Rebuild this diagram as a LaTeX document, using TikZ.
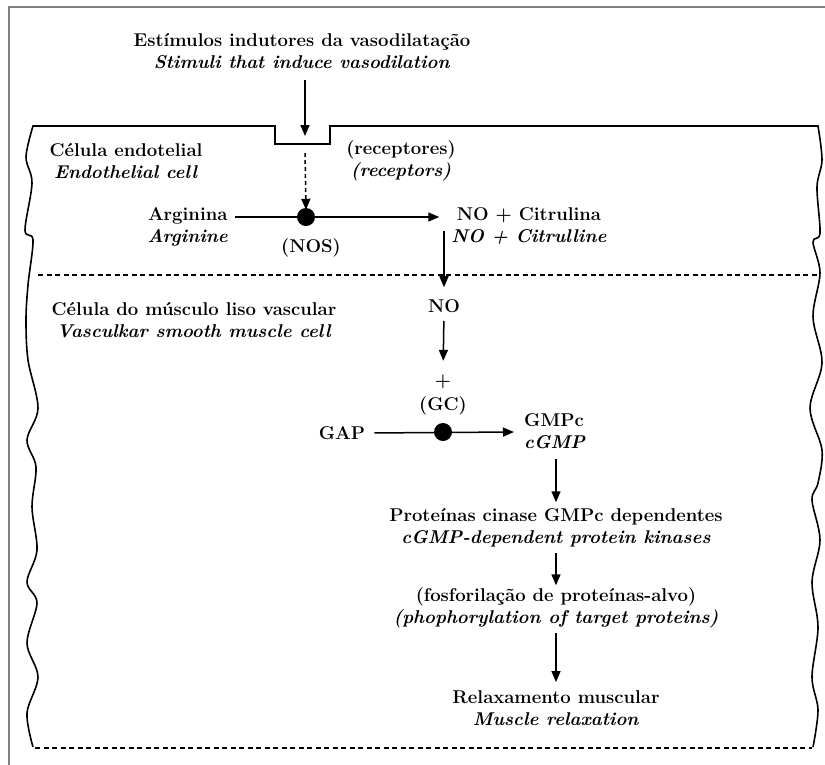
\documentclass[tikz,border=0pt]{standalone}
\usetikzlibrary{arrows.meta}
\begin{document}
\begin{tikzpicture}[x=1pt,y=-1pt,
  txt/.style={font=\fontsize{18.5}{22.5}\selectfont\bfseries, align=center, inner sep=0pt},
  arr/.style={line width=1.5pt, -{Triangle[length=11pt,width=9pt]}},
  cell/.style={line width=1.6pt, line join=miter},
  dashline/.style={line width=1.1pt, dash pattern=on 5pt off 3.5pt},
  dot/.style={circle, fill=black, minimum size=18pt, inner sep=0pt}]
\useasboundingbox (0,0) rectangle (825,764);
% outer frame
\draw[gray, line width=1.3pt] (9,770) -- (9,7) -- (830,7);
% cell outline
\draw[cell] plot[smooth,tension=0.55] coordinates {(33,747) (27,713) (38,677) (27,643) (37,603) (27,582) (37,550) (32,507) (36,467) (27,440) (38,408) (28,360) (26,320) (28,285) (33,240) (25,230) (32,183) (26,157) (33,126)}
  -- (275,126) -- (275,144) -- (330,144) -- (330,126) -- (818,126)
  -- plot[smooth,tension=0.55] coordinates {(818,126) (822,160) (817,187) (820,233) (813,242) (820,273) (813,317) (822,363) (810,408) (822,450) (818,483) (812,500) (820,540) (812,582) (818,627) (812,677) (818,710) (813,747)};
\draw[dashline] (38,275) -- (820,275);
\draw[dashline] (35,748) -- (812,748);
% texts
\node[txt] (title) at (302,51) {Estímulos indutores da vasodilatação\\\textit{Stimuli that induce vasodilation}};
\node[txt] (endo) at (126,161) {Célula endotelial\\\textit{Endothelial cell}};
\node[txt] (rcp) at (401,161) {(receptores)\\\textit{(receptors)}};
\node[txt, anchor=east] (arg) at (228,227) {Arginina\\\textit{Arginine}};
\node[dot] (nos) at (306,217) {};
\node[txt] (noslab) at (311,248) {(NOS)};
\node[txt] (cit) at (529,226) {NO + Citrulina\\\textit{NO + Citrulline}};
\node[txt] (smc) at (194,320) {Célula do músculo liso vascular\\\textit{Vasculkar smooth muscle cell}};
\node[txt] (no) at (444,306) {NO};
\node[txt] (plus) at (443,382) {+};
\node[txt] (gclab) at (443,406) {(GC)};
\node[dot] (gc) at (443,432) {};
\node[txt] (gap) at (342,433) {GAP};
\node[txt, align=left, anchor=west] (gmp) at (524,431) {GMPc\\\textit{cGMP}};
\node[txt] (prot) at (556,528) {Proteínas cinase GMPc dependentes\\\textit{cGMP-dependent protein kinases}};
\node[txt] (fosf) at (556,608) {(fosforilação de proteínas-alvo)\\\textit{(phophorylation of target proteins)}};
\node[txt] (relax) at (556,708) {Relaxamento muscular\\\textit{Muscle relaxation}};
% coordinates
\coordinate (in1) at (305,80);
\coordinate (in2) at (305,136);
\coordinate (d1) at (305,153);
\coordinate (c1) at (444,231);
% connectors
\draw[arr] (in1) -- (in2);
\draw[arr, dash pattern=on 4pt off 3pt] (d1) -- ([yshift=-2pt]nos.north);
\draw[arr] ([xshift=7pt]arg.east |- nos.center) -- ([xshift=-12pt]cit.west |- nos.center);
\draw[arr, shorten >=12pt] (c1) -- (no.north);
\draw[arr, shorten <=8pt, shorten >=14pt] (no.south) -- (plus.north);
\draw[arr, shorten <=9pt] (gap.east) -- ([xshift=-10pt]gmp.west |- gc.center);
\draw[arr, shorten <=10pt, shorten >=6pt] (gmp.south -| prot.north) -- (prot.north);
\draw[arr, shorten <=5pt, shorten >=2pt] (prot.south) -- (fosf.north);
\draw[arr, shorten <=4pt, shorten >=8pt] (fosf.south) -- (relax.north);
\end{tikzpicture}
\end{document}
